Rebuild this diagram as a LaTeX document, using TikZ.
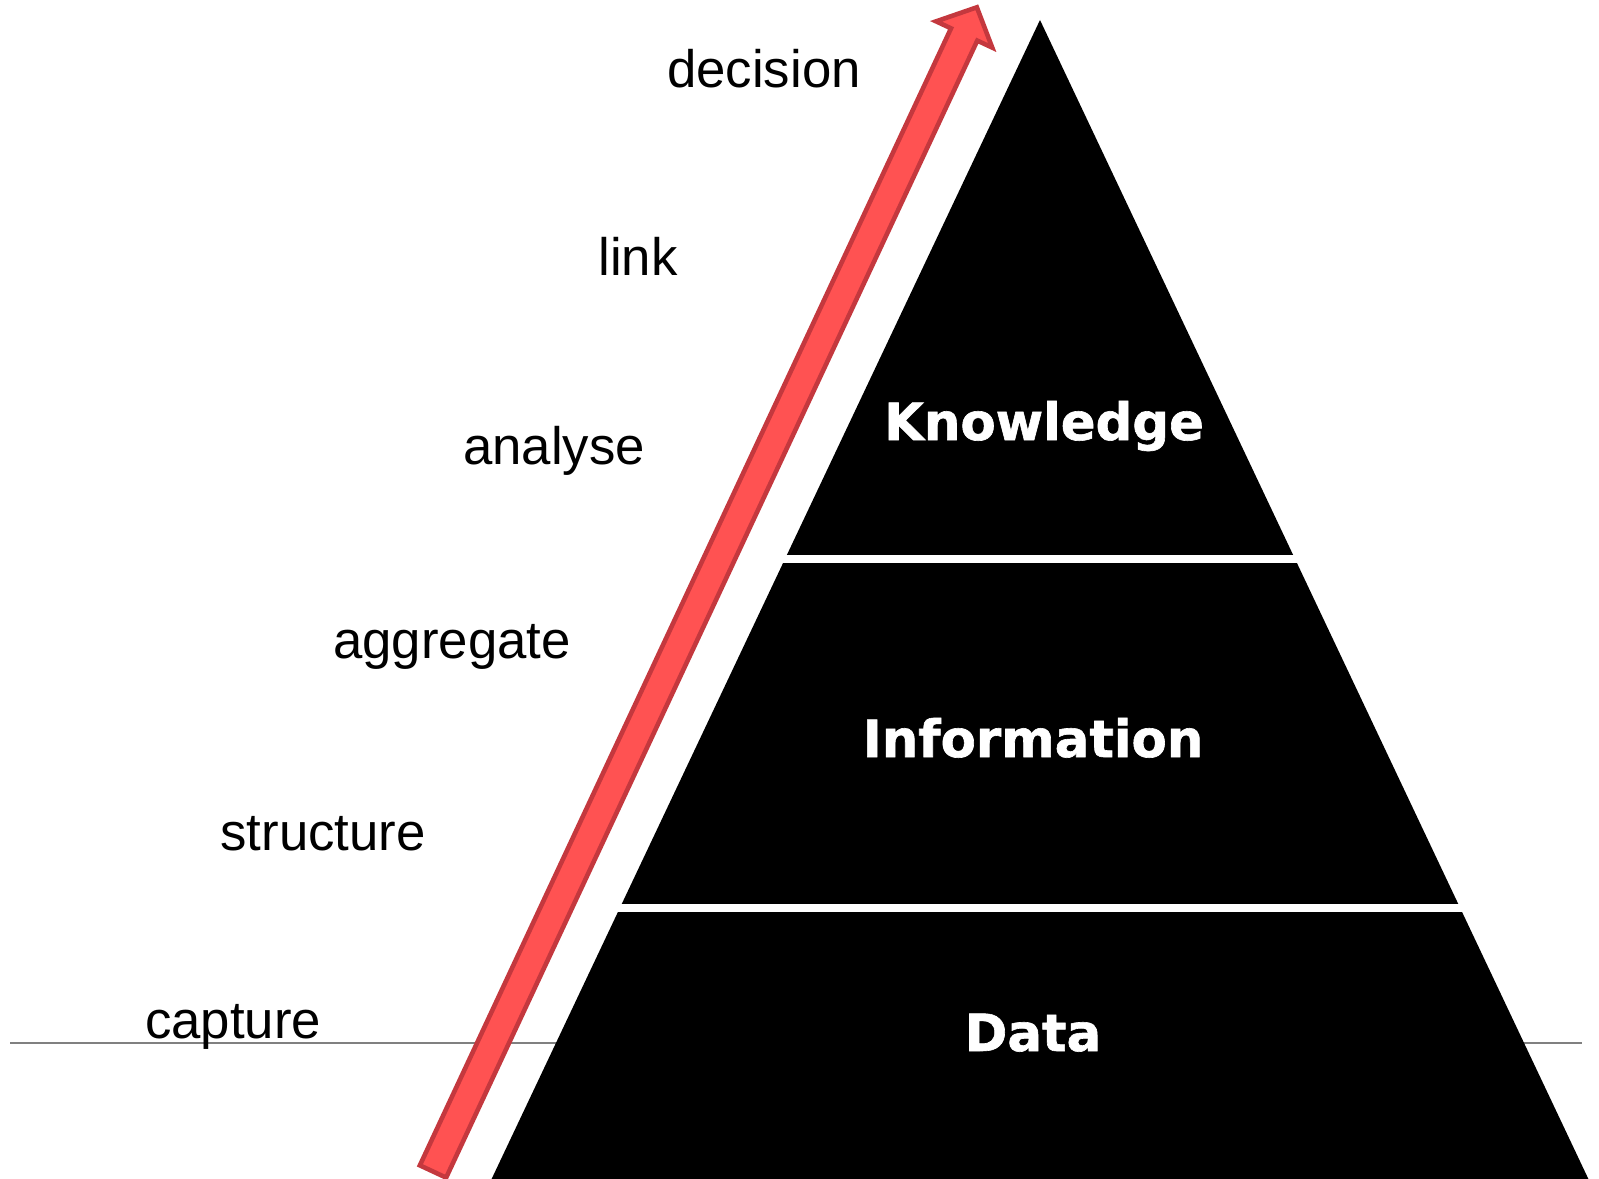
\documentclass[tikz,border=0pt]{standalone}
\usepackage{fontspec}
\setmainfont{Liberation Sans}
\newfontfamily\heavyfont{DejaVu Sans}[BoldFeatures={FakeBold=1.2}]
\definecolor{arrowred}{RGB}{255,82,82}
\definecolor{arrowedge}{RGB}{196,56,62}

\begin{document}
\begin{tikzpicture}[x=0.01cm,y=-0.01cm,
    stage/.style={font=\fontsize{15}{18}\selectfont,anchor=base},
    layer/.style={text=white,font=\heavyfont\bfseries\fontsize{14.6}{17}\selectfont,anchor=base}]
  \useasboundingbox (0,0) rectangle (1599,1179);
  % ground line
  \draw[gray,line width=0.45pt] (10,1043) -- (1582,1043);
  % pyramid, cut in three layers
  \fill[line join=round] (1040,20) -- (491.6,1179) -- (1588.4,1179) -- cycle;
  \fill[white] (600,555) rectangle (1480,563);
  \fill[white] (600,904) rectangle (1480,912);
  % block arrow
  \begin{scope}[shift={(433,1171.5)},rotate=64.96]
    \filldraw[fill=arrowred,draw=arrowedge,line width=1.3pt]
      (0,-14.5) -- (1255,-14.5) -- (1255,-31) -- (1285,0) -- (1255,31) -- (1255,14.5) -- (0,14.5) -- cycle;
  \end{scope}
  % steps
  \node[stage] (decision) at (764,88) {decision};
  \node[stage] (link) at (638,276) {link};
  \node[stage] (analyse) at (554,465) {analyse};
  \node[stage] (aggregate) at (452,658) {aggregate};
  \node[stage] (structure) at (323,850) {structure};
  \node[stage] (capture) at (233,1038) {capture};
  % layers
  \node[layer] (knowledge) at (1044,440) {Knowledge};
  \node[layer] (information) at (1033,757) {Information};
  \node[layer] (data) at (1033,1051) {Data};
\end{tikzpicture}
\end{document}
